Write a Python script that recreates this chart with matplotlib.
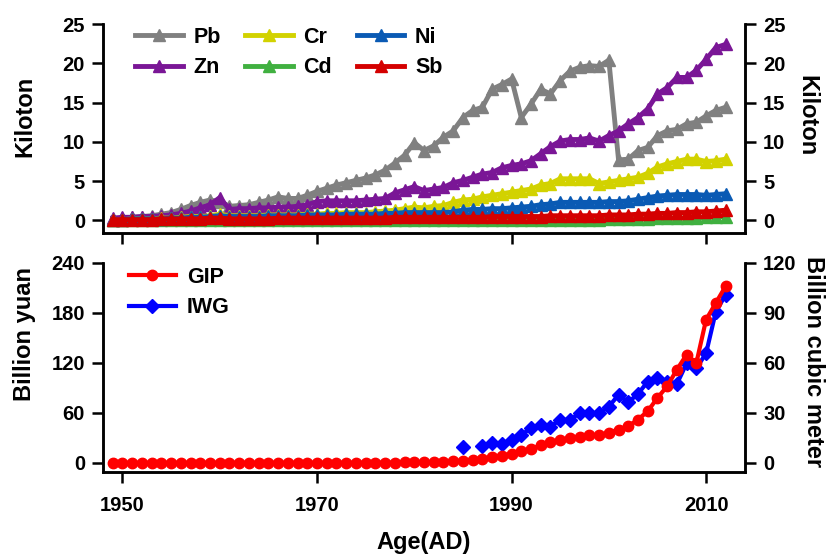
import numpy as np
import matplotlib
matplotlib.use("Agg")
import matplotlib.pyplot as plt

plt.rcParams['font.family'] = ['Liberation Sans', 'DejaVu Sans']
plt.rcParams['font.weight'] = 'bold'

years = list(range(1949, 2013))

pb = [0.2, 0.3, 0.4, 0.5, 0.6, 0.8, 1.0, 1.4, 1.9, 2.3, 2.6, 2.4, 1.8, 1.9, 2.0, 2.3,
      2.6, 3.0, 2.8, 2.8, 3.2, 3.7, 4.1, 4.5, 4.8, 5.1, 5.4, 5.8, 6.4, 7.3, 8.3, 9.9,
      8.9, 9.5, 10.6, 11.4, 13.1, 14.0, 14.4, 16.7, 17.3, 18.0, 13.1, 14.8, 16.7, 16.1,
      17.8, 19.0, 19.5, 19.7, 19.6, 20.4, 7.7, 7.8, 8.9, 9.3, 10.8, 11.4, 11.6, 12.3,
      12.5, 13.3, 14.0, 14.4]
zn = [0.3, 0.4, 0.4, 0.5, 0.5, 0.6, 0.7, 0.9, 1.2, 1.6, 2.0, 2.9, 1.4, 1.5, 1.5, 1.6,
      1.6, 1.7, 1.7, 1.8, 2.0, 2.4, 2.5, 2.5, 2.5, 2.5, 2.6, 2.7, 2.8, 3.5, 3.9, 4.3,
      3.8, 4.0, 4.2, 4.8, 5.1, 5.5, 5.9, 6.1, 6.7, 7.0, 7.2, 7.6, 8.5, 9.4, 10.1, 10.3,
      10.3, 10.5, 10.1, 10.8, 11.4, 12.3, 13.1, 14.2, 16.1, 16.9, 18.2, 18.2, 19.1,
      20.5, 22.0, 22.4]
cr = [0.1, 0.1, 0.2, 0.2, 0.2, 0.3, 0.3, 0.4, 0.5, 0.5, 0.6, 0.8, 0.6, 0.6, 0.6, 0.6,
      0.7, 0.7, 0.7, 0.7, 0.8, 0.8, 0.9, 0.9, 1.0, 1.0, 1.0, 1.1, 1.2, 1.3, 1.5, 1.7,
      1.6, 1.8, 1.9, 2.3, 2.6, 2.7, 3.0, 3.2, 3.4, 3.6, 3.8, 4.0, 4.5, 4.7, 5.3, 5.3,
      5.3, 5.3, 4.7, 4.9, 5.1, 5.3, 5.5, 6.0, 6.8, 7.2, 7.5, 7.8, 7.8, 7.5, 7.6, 7.8]
cd = [0.0, 0.0, 0.0, 0.0, 0.0, 0.0, 0.0, 0.0, 0.0, 0.0, 0.0, 0.0, 0.0, 0.0, 0.0, 0.0,
      0.0, 0.0, 0.0, 0.0, 0.0, 0.0, 0.0, 0.0, 0.0, 0.0, 0.0, 0.0, 0.0, 0.0, 0.05, 0.05,
      0.05, 0.05, 0.05, 0.05, 0.05, 0.05, 0.05, 0.05, 0.05, 0.05, 0.1, 0.1, 0.1, 0.1,
      0.1, 0.1, 0.1, 0.1, 0.1, 0.15, 0.15, 0.15, 0.2, 0.2, 0.25, 0.25, 0.3, 0.3, 0.35,
      0.4, 0.45, 0.5]
ni = [0.1, 0.1, 0.2, 0.2, 0.2, 0.2, 0.3, 0.3, 0.4, 0.4, 0.5, 0.6, 0.5, 0.5, 0.5, 0.5,
      0.6, 0.6, 0.6, 0.6, 0.7, 0.7, 0.7, 0.7, 0.8, 0.8, 0.8, 0.8, 0.9, 0.9, 1.0, 1.0,
      1.0, 1.0, 1.0, 1.1, 1.3, 1.4, 1.4, 1.5, 1.5, 1.6, 1.7, 1.8, 2.0, 2.1, 2.3, 2.3,
      2.3, 2.3, 2.3, 2.4, 2.4, 2.5, 2.7, 2.9, 3.1, 3.2, 3.3, 3.3, 3.3, 3.2, 3.3, 3.4]
sb = [0.1, 0.1, 0.1, 0.1, 0.1, 0.2, 0.2, 0.2, 0.2, 0.2, 0.3, 0.3, 0.2, 0.2, 0.2, 0.2,
      0.2, 0.3, 0.3, 0.3, 0.3, 0.3, 0.3, 0.3, 0.3, 0.3, 0.3, 0.3, 0.3, 0.4, 0.4, 0.4,
      0.4, 0.4, 0.4, 0.4, 0.4, 0.4, 0.4, 0.5, 0.5, 0.5, 0.5, 0.5, 0.5, 0.6, 0.6, 0.6,
      0.6, 0.6, 0.6, 0.7, 0.7, 0.7, 0.8, 0.8, 0.9, 0.9, 1.0, 1.0, 1.1, 1.1, 1.2, 1.3]

gip = [0.0, 0.0, 0.0, 0.0, 0.0, 0.0, 0.0, 0.0, 0.0, 0.0, 0.0, 0.0, 0.0, 0.0, 0.0, 0.0,
       0.0, 0.0, 0.0, 0.0, 0.0, 0.0, 0.0, 0.1, 0.1, 0.1, 0.2, 0.2, 0.3, 0.4, 0.5, 0.6,
       0.8, 1.0, 1.6, 2.0, 2.7, 3.6, 4.8, 6.8, 8.8, 10.8, 14.0, 17.0, 21.0, 25.0,
       27.0, 30.0, 31.0, 33.0, 33.0, 36.4, 40.0, 44.0, 52.0, 62.0, 78.0, 92.0, 112.0,
       130.0, 120.0, 172.0, 192.0, 212.0]
iwg_years = [1985, 1987, 1988, 1989, 1990, 1991, 1992, 1993, 1994, 1995, 1996, 1997,
             1998, 1999, 2000, 2001, 2002, 2003, 2004, 2005, 2006, 2007, 2008, 2009,
             2010, 2011, 2012]
iwg = [9.8, 10.2, 12.2, 11.4, 13.8, 16.8, 20.8, 22.8, 21.8, 25.8, 25.8, 29.8, 29.8,
       29.8, 33.8, 40.8, 36.4, 41.4, 48.8, 50.8, 48.8, 47.4, 59.8, 56.8, 65.8, 90.8,
       100.8]

metal_names = ['Pb', 'Zn', 'Cr', 'Cd', 'Ni', 'Sb']
metal_data = [pb, zn, cr, cd, ni, sb]
metal_colors = ['#808080', '#7a1696', '#d2d200', '#40b040', '#0a5ab4', '#d40000']

fig = plt.figure(figsize=(8.34, 5.58), dpi=100)
W, H = 834, 558
L, R = 103, 745
ax1 = fig.add_axes([L / W, 1 - 233 / H, (R - L) / W, (233 - 24) / H])
ax2 = fig.add_axes([L / W, 1 - 472 / H, (R - L) / W, (472 - 263) / H])

lw_sp = 1.8
tick_kw = dict(direction='out', length=8, width=1.8, labelsize=14.5, pad=5)
lab_size = 17
leg_prop = {'size': 15.5, 'weight': 'bold'}

# --- Top panel
handles = []
for name, vals, col in zip(metal_names, metal_data, metal_colors):
    h, = ax1.plot(years, vals, color=col, lw=3.5, marker='^', ms=9, label=name,
                  clip_on=False)
    handles.append(h)
ax1.set_xlim(1948, 2014)
ax1.set_ylim(-1.6, 25)
ax1.set_yticks([0, 5, 10, 15, 20, 25])
ax1.set_xticks([1950, 1970, 1990, 2010])
ax1.tick_params(axis='x', labelbottom=False, **tick_kw)
ax1.tick_params(axis='y', **tick_kw)
ax1.set_ylabel('Kiloton', fontsize=lab_size, fontweight='bold')
ax1.yaxis.set_label_coords(-0.104, 0.56)
ax1t = ax1.twinx()
ax1t.set_ylim(-1.6, 25)
ax1t.set_yticks([0, 5, 10, 15, 20, 25])
ax1t.tick_params(axis='y', **tick_kw)
ax1t.set_ylabel('Kiloton', fontsize=lab_size, fontweight='bold', rotation=270)
ax1t.yaxis.set_label_coords(1.115, 0.56)
for a in (ax1, ax1t):
    a.spines['top'].set_visible(False)
    for s in a.spines.values():
        s.set_linewidth(lw_sp)
leg1 = ax1.legend(handles=handles, ncol=3, loc='upper left',
                  bbox_to_anchor=(0.02, 1.08), frameon=False,
                  prop=leg_prop, handlelength=2.2,
                  columnspacing=1.15, handletextpad=0.5, labelspacing=0.45)

# --- Bottom panel
hg, = ax2.plot(years, gip, color='#ff0000', lw=3, marker='o', ms=7.5,
               label='GIP', clip_on=False, zorder=3)
ax2.set_xlim(1948, 2014)
ax2.set_ylim(-11, 240)
ax2.set_yticks([0, 60, 120, 180, 240])
ax2.set_xticks([1950, 1970, 1990, 2010])
ax2.tick_params(axis='both', **tick_kw)
ax2.tick_params(axis='x', pad=9)
ax2.set_ylabel('Billion yuan', fontsize=lab_size, fontweight='bold')
ax2.yaxis.set_label_coords(-0.104, 0.66)
ax2.set_xlabel('Age(AD)', fontsize=lab_size, fontweight='bold', labelpad=12)
ax2t = ax2.twinx()
iy = np.array(iwg_years, dtype=float)
iv = np.array(iwg, dtype=float)
hi, = ax2t.plot(iy, iv, color='#0000ff', lw=3, marker='D', ms=7,
                label='IWG', clip_on=False)
# break the line at the missing year 1986
hi.set_data(np.insert(iy, 1, 1986), np.insert(iv, 1, np.nan))
ax2t.set_ylim(-5.5, 120)
ax2t.set_yticks([0, 30, 60, 90, 120])
ax2t.tick_params(axis='y', **tick_kw)
ax2t.set_ylabel('Billion cubic meter', fontsize=lab_size, fontweight='bold', rotation=270)
ax2t.yaxis.set_label_coords(1.125, 0.53)
for a in (ax2, ax2t):
    a.spines['top'].set_visible(False)
    for s in a.spines.values():
        s.set_linewidth(lw_sp)
ax2.set_zorder(ax2t.get_zorder() + 1)
ax2.patch.set_visible(False)
ax2.legend(handles=[hg, hi], loc='upper left', bbox_to_anchor=(0.01, 1.075),
           frameon=False, prop=leg_prop, handlelength=2.2,
           handletextpad=0.5, labelspacing=0.45)

for a in (ax1, ax1t, ax2, ax2t):
    for lab in a.get_xticklabels() + a.get_yticklabels():
        lab.set_fontweight('bold')

fig.savefig('out.png', dpi=100)
